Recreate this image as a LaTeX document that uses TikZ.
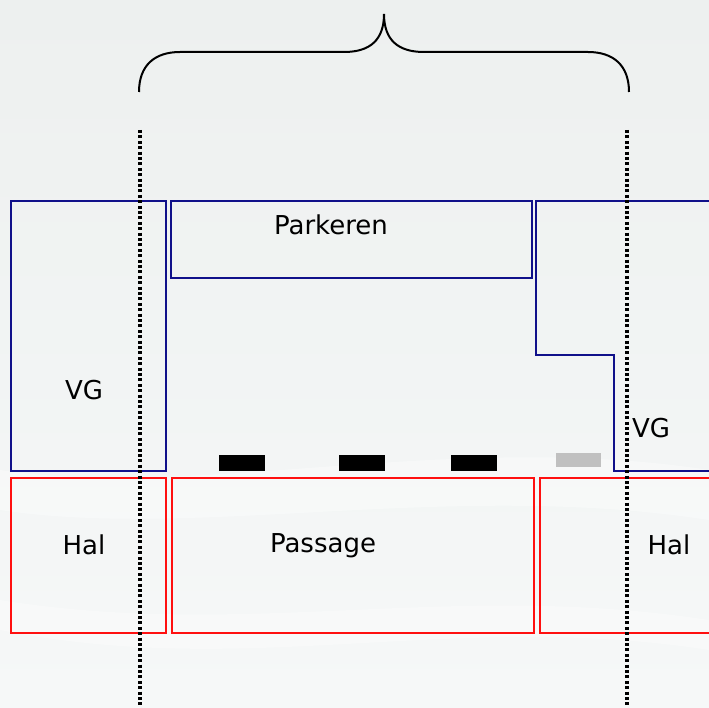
\documentclass[tikz,border=0pt]{standalone}
\usepackage{fontspec}
\setmainfont{DejaVu Sans}
\definecolor{bgtop}{HTML}{EDF0EF}
\definecolor{bgbot}{HTML}{F6F8F8}
\definecolor{vgblue}{HTML}{10108A}
\definecolor{halred}{HTML}{FF1010}
\definecolor{lightgrey}{HTML}{C0C0C0}
\begin{document}
\begin{tikzpicture}[x=1pt,y=-1pt,
  bluebox/.style={draw=vgblue,line width=2pt},
  redbox/.style={draw=halred,line width=2pt},
  lbl/.style={font=\fontsize{26}{30}\selectfont,text=black,inner sep=0pt},
  dotline/.style={line width=3.6pt,dash pattern=on 3pt off 2.4pt},
  bar/.style={fill=black,draw=none},
  greybar/.style={fill=lightgrey,draw=none}]
\useasboundingbox (0,0) rectangle (709,708);
\shade[top color=bgtop,bottom color=bgbot] (0,0) rectangle (709,708);
\fill[white,opacity=0.35] (0,470) .. controls (200,500) and (450,430) .. (709,470) -- (709,520) .. controls (450,480) and (200,540) .. (0,510) -- cycle;
\fill[white,opacity=0.3] (0,600) .. controls (250,640) and (450,580) .. (709,620) -- (709,650) .. controls (450,610) and (250,680) .. (0,630) -- cycle;

% brace
\coordinate (bl) at (139,92);
\coordinate (br) at (629,92);
\coordinate (bt) at (384,14);
\draw[line width=2pt]
  (bl) .. controls (139,65) and (155,52) .. (180,52) -- (344,52)
  .. controls (370,52) and (384,40) .. (bt)
  .. controls (384,40) and (398,52) .. (424,52) -- (588,52)
  .. controls (613,52) and (629,65) .. (br);

% blue boxes
\node[bluebox,minimum width=155pt,minimum height=270pt,inner sep=0pt] (vgl) at (88.5,336) {};
\node[lbl] (vgltext) at (84,390) {VG};
\node[bluebox,minimum width=361pt,minimum height=77pt,inner sep=0pt] (park) at (351.5,239.5) {};
\node[lbl] (parktext) at (331,225) {Parkeren};
\draw[bluebox] (715,201) -- (536,201) -- (536,355) -- (614,355) -- (614,471) -- (715,471);
\node[lbl] (vgrtext) at (651,428) {VG};

% red boxes
\node[redbox,minimum width=155pt,minimum height=155pt,inner sep=0pt] (hall) at (88.5,555.5) {};
\node[lbl] (halltext) at (84,545) {Hal};
\node[redbox,minimum width=362pt,minimum height=155pt,inner sep=0pt] (pass) at (353,555.5) {};
\node[lbl] (passtext) at (323,546) {Passage};
\draw[redbox] (715,478) -- (540,478) -- (540,633) -- (715,633);
\node[lbl] (halrtext) at (669,545) {Hal};

% bars
\fill[bar] (219,455) rectangle (265,471);
\fill[bar] (339,455) rectangle (385,471);
\fill[bar] (451,455) rectangle (497,471);
\fill[greybar] (556,453) rectangle (601,467);

% dotted lines
\coordinate (dl1) at (140,130);
\coordinate (dl2) at (140,708);
\coordinate (dr1) at (627,130);
\coordinate (dr2) at (627,708);
\draw[dotline] (dl1) -- (dl2);
\draw[dotline] (dr1) -- (dr2);
\end{tikzpicture}
\end{document}
